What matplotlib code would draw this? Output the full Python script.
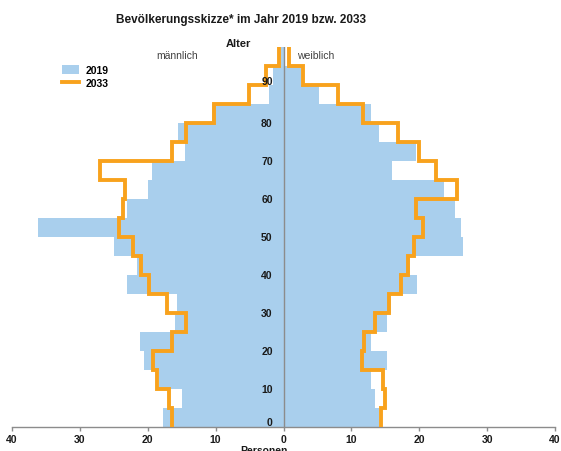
import numpy as np
import matplotlib
matplotlib.use('Agg')
import matplotlib.pyplot as plt
from matplotlib.patches import Patch
from matplotlib.lines import Line2D

plt.rcParams['font.family'] = ['Liberation Sans', 'DejaVu Sans']

# ---- Data (5-year age groups, 0-4 ... 95+) ----
age_edges = np.arange(0, 105, 5)
male_2019 = [17.8, 14.9, 18.4, 20.6, 21.2, 16.0, 15.7, 23.0, 21.6, 25.0,
             36.2, 23.1, 20.0, 19.4, 14.5, 15.6, 10.5, 2.1, 1.6, 0.3]
male_2033 = [16.4, 16.9, 18.6, 19.2, 16.5, 14.4, 17.1, 19.8, 21.0, 22.2,
             24.2, 23.7, 23.4, 27.0, 16.4, 14.4, 10.3, 5.15, 2.55, 0.7]
female_2019 = [14.0, 13.5, 12.9, 15.3, 12.9, 15.3, 15.8, 19.7, 18.7, 26.5,
               26.2, 25.3, 23.6, 16.0, 19.5, 14.1, 12.9, 5.3, 2.6, 0.2]
female_2033 = [14.3, 14.9, 14.6, 11.6, 11.9, 13.5, 15.6, 17.3, 18.3, 19.2,
               20.5, 19.5, 25.6, 22.4, 19.9, 16.9, 11.7, 8.0, 2.85, 0.78]
age_labels = list(range(0, 100, 10))
x_ticks = [-40, -30, -20, -10, 0, 10, 20, 30, 40]

BLUE = '#a9cfed'
ORANGE = '#f8a21d'
GRID = '#8c8c8c'
TEXT = '#1a1a1a'

fig = plt.figure(figsize=(5.61, 4.52), dpi=100)
ax = fig.add_axes([12 / 561, 1 - 427.7 / 452, 543 / 561, 380 / 452])

# ---- 2019 bars ----
bottoms = age_edges[:-1]
ax.barh(bottoms, -np.array(male_2019), height=5, align='edge', color=BLUE, linewidth=0)
ax.barh(bottoms, female_2019, height=5, align='edge', color=BLUE, linewidth=0)

# ---- center axis ----
ax.plot([0, 0], [0, 100], color=GRID, linewidth=1.0, zorder=3)

# ---- 2033 step outlines ----
ax.stairs(-np.array(male_2033), age_edges, orientation='horizontal',
          baseline=None, color=ORANGE, linewidth=2.8, zorder=4)
ax.stairs(female_2033, age_edges, orientation='horizontal',
          baseline=None, color=ORANGE, linewidth=2.8, zorder=4)

ax.set_xlim(-40, 40)
ax.set_ylim(0, 100)

# ---- axes styling ----
for s in ['left', 'right', 'top']:
    ax.spines[s].set_visible(False)
ax.spines['bottom'].set_color(GRID)
ax.spines['bottom'].set_linewidth(1.0)
ax.set_yticks([])
ax.set_xticks(x_ticks)
ax.set_xticklabels([str(abs(v)) for v in x_ticks], fontsize=7.5,
                   fontweight='bold', color=TEXT)
ax.tick_params(axis='x', direction='out', length=3, width=1, color=GRID, pad=2)

# age labels next to the center line
for a in age_labels:
    y = a + 1.2 if a == 0 else (a + 1 if a == 90 else a)
    ax.text(-1.6, y, str(a), ha='right', va='center',
            fontsize=7.5, fontweight='bold', color=TEXT, zorder=5)

# ---- texts ----
fig.text(241 / 561, 1 - 20 / 452, 'Bevölkerungsskizze* im Jahr 2019 bzw. 2033',
         ha='center', va='center', fontsize=8.5, fontweight='bold', color=TEXT)
fig.text(238 / 561, 1 - 44 / 452, 'Alter', ha='center', va='center',
         fontsize=8, fontweight='bold', color=TEXT)
fig.text(177 / 561, 1 - 56 / 452, 'männlich', ha='center', va='center',
         fontsize=7.5, color='#404040')
fig.text(316 / 561, 1 - 56 / 452, 'weiblich', ha='center', va='center',
         fontsize=7.5, color='#404040')
fig.text(264 / 561, 1 - 446 / 452, 'Personen', ha='center', va='top',
         fontsize=7.5, fontweight='bold', color=TEXT)

# ---- legend ----
handles = [Patch(facecolor=BLUE, edgecolor='none', label='2019'),
           Line2D([0], [0], color=ORANGE, linewidth=2.8, label='2033')]
leg = fig.legend(handles=handles, loc='upper left',
                 bbox_to_anchor=(60 / 561, 1 - 64 / 452), frameon=False,
                 prop={'size': 7.5, 'weight': 'bold'}, handlelength=1.6,
                 handleheight=0.9, labelspacing=0.25, handletextpad=0.7,
                 borderaxespad=0, borderpad=0.2)

fig.savefig('out.png', dpi=100)
plt.close(fig)
